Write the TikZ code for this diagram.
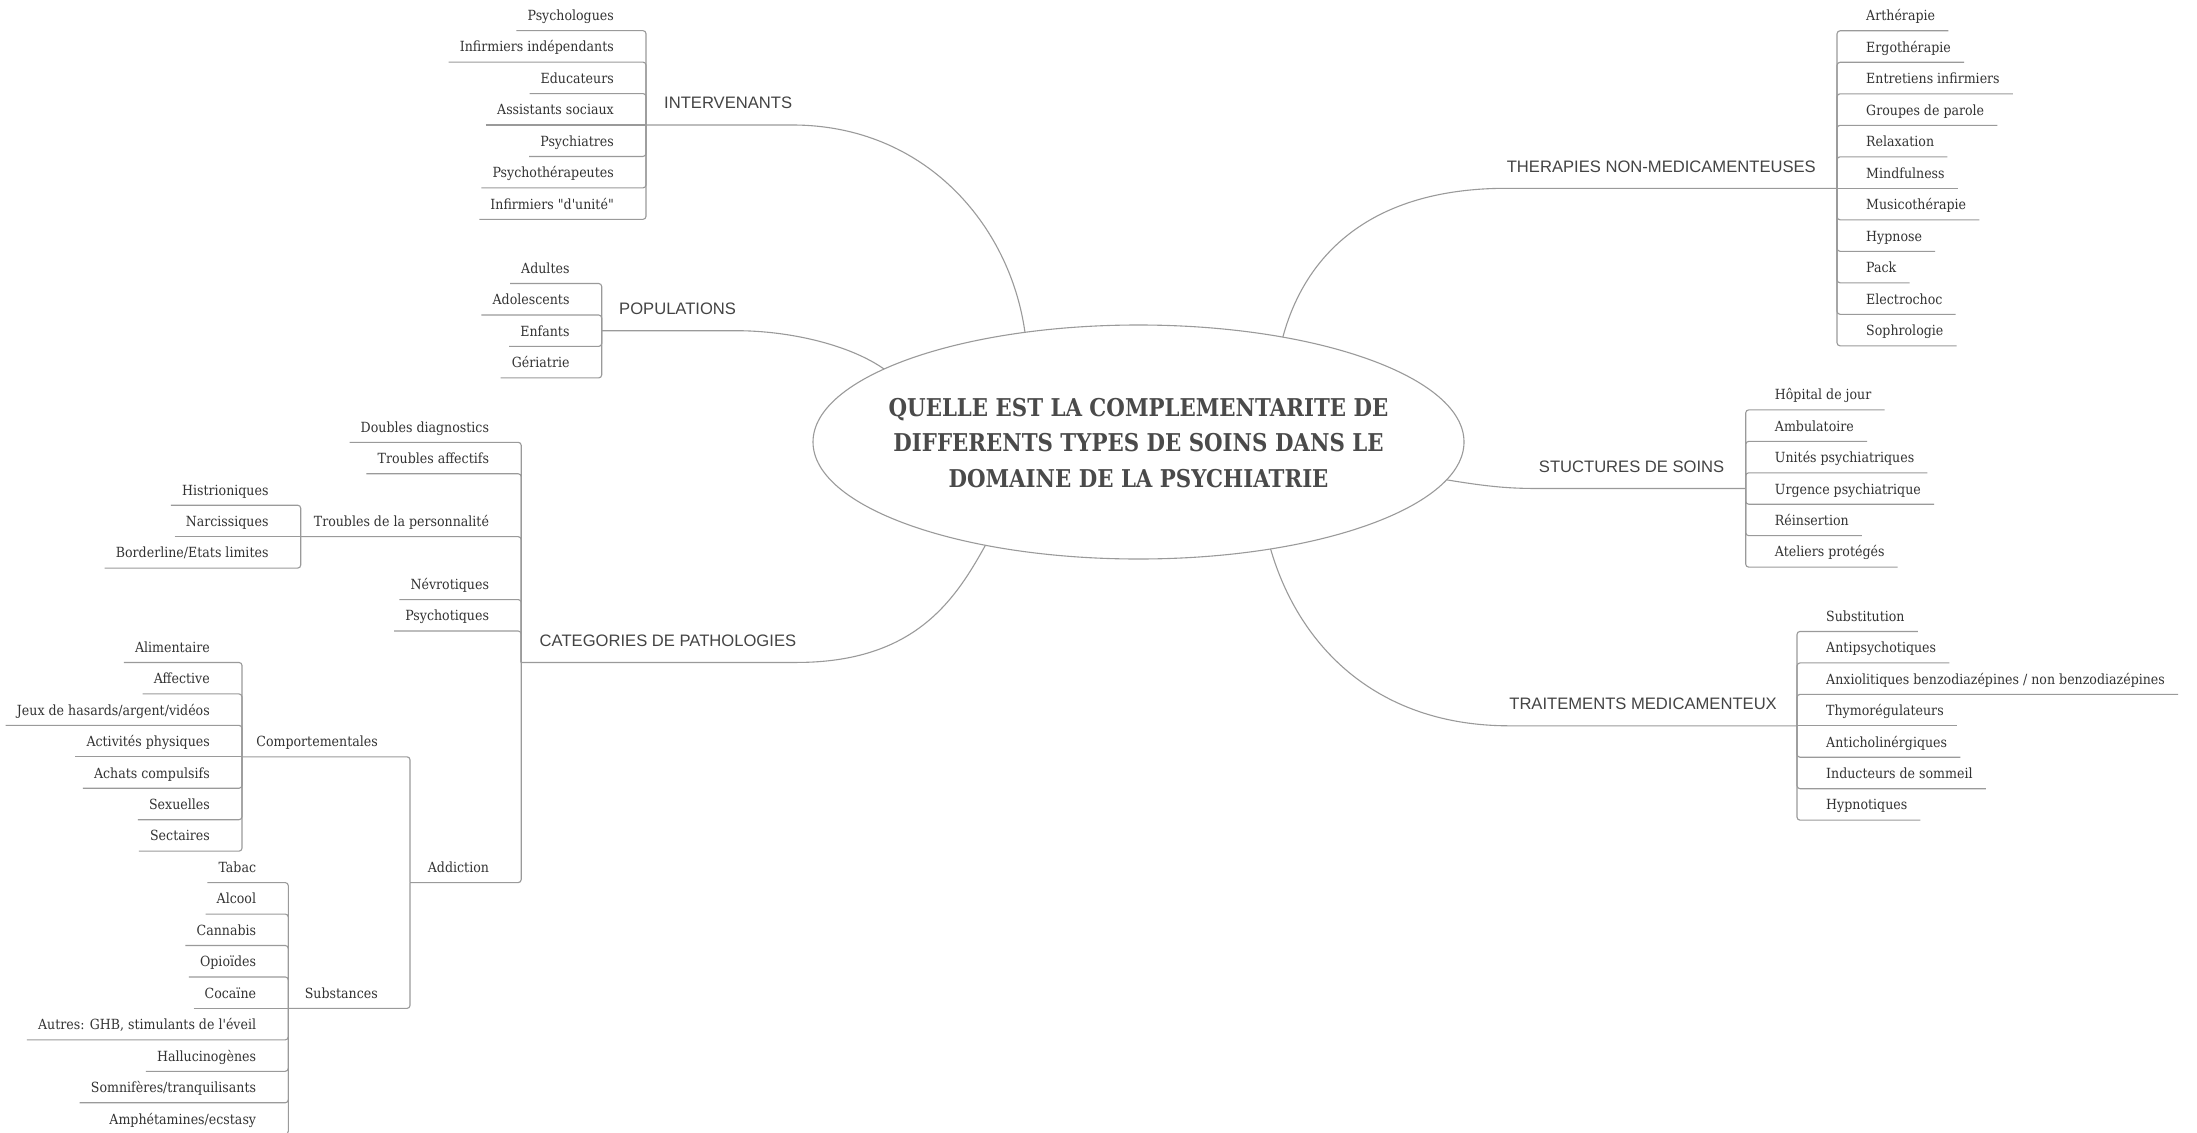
\documentclass[tikz,border=0pt]{standalone}
\usepackage{fontspec}
\usepackage{tikz}
\usetikzlibrary{shapes}
\setmainfont{DejaVu Serif}
\newfontfamily\leaffont{DejaVu Serif}[FakeStretch=0.9, Ligatures=TeXOff]
\newfontfamily\hubfont{DejaVu Serif}[FakeStretch=0.87]
\newfontfamily\topicfont{Liberation Sans}
\definecolor{linegray}{HTML}{9A9A9A}
\definecolor{leaftext}{HTML}{333333}
\definecolor{topictext}{HTML}{444444}
\definecolor{hubtext}{HTML}{4A4A4A}

\begin{document}
\begin{tikzpicture}[x=1pt, y=-1pt,
    leaf/.style={font=\leaffont\fontsize{14}{16}\selectfont, text=leaftext, inner ysep=0pt, text height=11pt, text depth=10pt},
    leafl/.style={leaf, inner xsep=11pt, anchor=south east},
    leafr/.style={leaf, inner xsep=13pt, anchor=south west},
    topic/.style={font=\topicfont\fontsize{16.6}{20}\selectfont, text=topictext, inner sep=0pt, text depth=16pt},
    twig/.style={draw=linegray, line width=1.1pt, rounded corners=3pt},
    bough/.style={draw=linegray, line width=1.1pt}]
       \path[use as bounding box, fill=white] (0,0) rectangle (2197,1132);

       \node[draw=linegray, line width=1.1pt, ellipse, minimum width=651pt, minimum height=234pt, outer sep=0pt] (hub) at (1138.5,442) {};
       \node[font=\hubfont\bfseries\fontsize{24.5}{35.6}\selectfont, text=hubtext, align=center] (question) at (1138.5,443)
            {QUELLE EST LA COMPLEMENTARITE DE\\DIFFERENTS TYPES DE SOINS DANS LE\\DOMAINE DE LA PSYCHIATRIE};

       \coordinate (jiv) at (646,125);
       \node[topic, anchor=south west] (iv) at (664,125) {INTERVENANTS};
       \node[leafl] (iv1) at (625, 30.65) {Psychologues};
       \node[leafl] (iv2) at (625, 62.1)  {Infirmiers indépendants};
       \node[leafl] (iv3) at (625, 93.55) {Educateurs};
       \node[leafl] (iv4) at (625,125)    {Assistants sociaux};
       \node[leafl] (iv5) at (625,156.45) {Psychiatres};
       \node[leafl] (iv6) at (625,187.9)  {Psychothérapeutes};
       \node[leafl] (iv7) at (625,219.35) {Infirmiers "d'unité"};
       \draw[bough] (jiv) -- (iv.south east) .. controls (925,125) and (1010,225) .. (hub.136);
       \draw[twig] (iv1.south west) -| (jiv);
       \draw[twig] (iv2.south west) -| (jiv);
       \draw[twig] (iv3.south west) -| (jiv);
       \draw[twig] (iv4.south west) -- (jiv);
       \draw[twig] (iv5.south west) -| (jiv);
       \draw[twig] (iv6.south west) -| (jiv);
       \draw[twig] (iv7.south west) -| (jiv);

       \coordinate (jpo) at (601.7,330.7);
       \node[topic, anchor=south west] (po) at (619,330.7) {POPULATIONS};
       \node[leafl] (po1) at (580.7,283.5) {Adultes};
       \node[leafl] (po2) at (580.7,315)   {Adolescents};
       \node[leafl] (po3) at (580.7,346.4) {Enfants};
       \node[leafl] (po4) at (580.7,377.9) {Gériatrie};
       \draw[bough] (jpo) -- (po.south east) .. controls (790,330.7) and (850,345) .. (hub.164);
       \draw[twig] (po1.south west) -| (jpo);
       \draw[twig] (po2.south west) -| (jpo);
       \draw[twig] (po3.south west) -| (jpo);
       \draw[twig] (po4.south west) -| (jpo);

       \coordinate (jcp) at (521.2,662.45);
       \node[topic, anchor=south west] (cp) at (539.5,662.45) {CATEGORIES DE PATHOLOGIES};
       \node[leafl] (cp1) at (500.2,442.3)  {Doubles diagnostics};
       \node[leafl] (cp2) at (500.2,473.75) {Troubles affectifs};
       \node[leafl] (cp3) at (500.2,536.65) {Troubles de la personnalité};
       \node[leafl] (cp4) at (500.2,599.55) {Névrotiques};
       \node[leafl] (cp5) at (500.2,631)    {Psychotiques};
       \node[leafl] (cp6) at (500.2,882.6)  {Addiction};
       \draw[bough] (jcp) -- (cp.south east) .. controls (915,662.45) and (955,600) .. (hub.214);
       \draw[twig] (cp1.south west) -| (jcp);
       \draw[twig] (cp2.south west) -| (jcp);
       \draw[twig] (cp4.south west) -| (jcp);
       \draw[twig] (cp5.south west) -| (jcp);

       \coordinate (jtp) at (300.7,536.65);
       \node[leafl] (tp1) at (279.7,505.2)  {Histrioniques};
       \node[leafl] (tp2) at (279.7,536.65) {Narcissiques};
       \node[leafl] (tp3) at (279.7,568.1)  {Borderline/Etats limites};
       \draw[twig] (jtp) -| (jcp);
       \draw[twig] (tp1.south west) -| (jtp);
       \draw[twig] (tp2.south west) -- (jtp);
       \draw[twig] (tp3.south west) -| (jtp);

       \coordinate (jad) at (410,882.6);
       \node[leafl] (ad1) at (389,756.8)  {Comportementales};
       \node[leafl] (ad2) at (389,1008.4) {Substances};
       \draw[twig] (jad) -| (jcp);

       \coordinate (jco) at (242,756.8);
       \node[leafl] (co1) at (221,662.45) {Alimentaire};
       \node[leafl] (co2) at (221,693.9)  {Affective};
       \node[leafl] (co3) at (221,725.35) {Jeux de hasards/argent/vidéos};
       \node[leafl] (co4) at (221,756.8)  {Activités physiques};
       \node[leafl] (co5) at (221,788.25) {Achats compulsifs};
       \node[leafl] (co6) at (221,819.7)  {Sexuelles};
       \node[leafl] (co7) at (221,851.15) {Sectaires};
       \draw[twig] (jco) -| (jad);
       \draw[twig] (co1.south west) -| (jco);
       \draw[twig] (co2.south west) -| (jco);
       \draw[twig] (co3.south west) -| (jco);
       \draw[twig] (co4.south west) -- (jco);
       \draw[twig] (co5.south west) -| (jco);
       \draw[twig] (co6.south west) -| (jco);
       \draw[twig] (co7.south west) -| (jco);

       \coordinate (jsu) at (288.3,1008.4);
       \node[leafl] (su1) at (267.3,882.6)   {Tabac};
       \node[leafl] (su2) at (267.3,914.05)  {Alcool};
       \node[leafl] (su3) at (267.3,945.5)   {Cannabis};
       \node[leafl] (su4) at (267.3,976.95)  {Opioïdes};
       \node[leafl] (su5) at (267.3,1008.4)  {Cocaïne};
       \node[leafl] (su6) at (267.3,1039.85) {Autres: GHB, stimulants de l'éveil};
       \node[leafl] (su7) at (267.3,1071.3)  {Hallucinogènes};
       \node[leafl] (su8) at (267.3,1102.75) {Somnifères/tranquilisants};
       \node[leafl] (su9) at (267.3,1134.2)  {Amphétamines/ecstasy};
       \draw[twig] (jsu) -| (jad);
       \draw[twig] (su1.south west) -| (jsu);
       \draw[twig] (su2.south west) -| (jsu);
       \draw[twig] (su3.south west) -| (jsu);
       \draw[twig] (su4.south west) -| (jsu);
       \draw[twig] (su5.south west) -- (jsu);
       \draw[twig] (su6.south west) -| (jsu);
       \draw[twig] (su7.south west) -| (jsu);
       \draw[twig] (su8.south west) -| (jsu);
       \draw[twig] (su9.south west) -| (jsu);

       \coordinate (jth) at (1837,188.3);
       \node[topic, anchor=south east] (th) at (1816,188.3) {THERAPIES NON-MEDICAMENTEUSES};
       \node[leafr] (th1)  at (1853, 30.8) {Arthérapie};
       \node[leafr] (th2)  at (1853, 62.3) {Ergothérapie};
       \node[leafr] (th3)  at (1853, 93.8) {Entretiens infirmiers};
       \node[leafr] (th4)  at (1853,125.3) {Groupes de parole};
       \node[leafr] (th5)  at (1853,156.8) {Relaxation};
       \node[leafr] (th6)  at (1853,188.3) {Mindfulness};
       \node[leafr] (th7)  at (1853,219.8) {Musicothérapie};
       \node[leafr] (th8)  at (1853,251.3) {Hypnose};
       \node[leafr] (th9)  at (1853,282.8) {Pack};
       \node[leafr] (th10) at (1853,314.3) {Electrochoc};
       \node[leafr] (th11) at (1853,345.8) {Sophrologie};
       \draw[bough] (hub.36) .. controls (1305,255) and (1370,188.3) .. (th.south west) -- (jth);
       \draw[twig] (jth) |- (th1.south east);
       \draw[twig] (jth) |- (th2.south east);
       \draw[twig] (jth) |- (th3.south east);
       \draw[twig] (jth) |- (th4.south east);
       \draw[twig] (jth) |- (th5.south east);
       \draw[twig] (jth) -- (th6.south east);
       \draw[twig] (jth) |- (th7.south east);
       \draw[twig] (jth) |- (th8.south east);
       \draw[twig] (jth) |- (th9.south east);
       \draw[twig] (jth) |- (th10.south east);
       \draw[twig] (jth) |- (th11.south east);

       \coordinate (jst) at (1745.7,488.5);
       \node[topic, anchor=south east] (st) at (1724.5,488.5) {STUCTURES DE SOINS};
       \node[leafr] (st1) at (1761.7,409.9)  {Hôpital de jour};
       \node[leafr] (st2) at (1761.7,441.35) {Ambulatoire};
       \node[leafr] (st3) at (1761.7,472.8)  {Unités psychiatriques};
       \node[leafr] (st4) at (1761.7,504.2)  {Urgence psychiatrique};
       \node[leafr] (st5) at (1761.7,535.65) {Réinsertion};
       \node[leafr] (st6) at (1761.7,567.1)  {Ateliers protégés};
       \draw[bough] (hub.-7) .. controls (1490,487) and (1510,488.5) .. (st.south west) -- (jst);
       \draw[twig] (jst) |- (st1.south east);
       \draw[twig] (jst) |- (st2.south east);
       \draw[twig] (jst) |- (st3.south east);
       \draw[twig] (jst) |- (st4.south east);
       \draw[twig] (jst) |- (st5.south east);
       \draw[twig] (jst) |- (st6.south east);

       \coordinate (jtr) at (1797,725.8);
       \node[topic, anchor=south east] (tr) at (1777,725.8) {TRAITEMENTS MEDICAMENTEUX};
       \node[leafr] (tr1) at (1813,631.45) {Substitution};
       \node[leafr] (tr2) at (1813,662.9)  {Antipsychotiques};
       \node[leafr] (tr3) at (1813,694.35) {Anxiolitiques benzodiazépines / non benzodiazépines};
       \node[leafr] (tr4) at (1813,725.8)  {Thymorégulateurs};
       \node[leafr] (tr5) at (1813,757.25) {Anticholinérgiques};
       \node[leafr] (tr6) at (1813,788.7)  {Inducteurs de sommeil};
       \node[leafr] (tr7) at (1813,820.15) {Hypnotiques};
       \draw[bough] (hub.-39) .. controls (1300,650) and (1380,725.8) .. (tr.south west) -- (jtr);
       \draw[twig] (jtr) |- (tr1.south east);
       \draw[twig] (jtr) |- (tr2.south east);
       \draw[twig] (jtr) |- (tr3.south east);
       \draw[twig] (jtr) -- (tr4.south east);
       \draw[twig] (jtr) |- (tr5.south east);
       \draw[twig] (jtr) |- (tr6.south east);
       \draw[twig] (jtr) |- (tr7.south east);
    \end{tikzpicture}
\end{document}
